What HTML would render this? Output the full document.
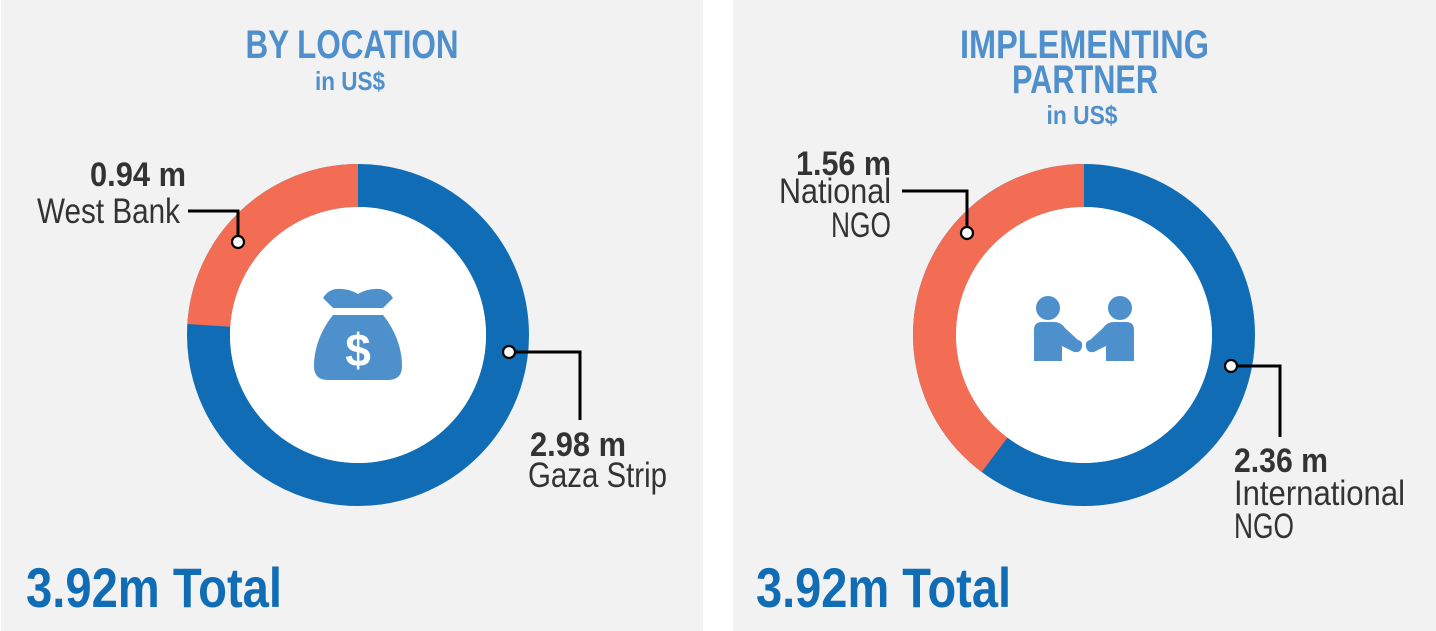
<!DOCTYPE html>
<html>
<head>
<meta charset="utf-8">
<style>
  html,body{margin:0;padding:0;background:#fff;}
  svg{display:block;}
  text{font-family:"Liberation Sans", Arial, sans-serif;}
</style>
</head>
<body>
<svg width="1436" height="631" viewBox="0 0 1436 631" xmlns="http://www.w3.org/2000/svg">
  <rect x="0" y="0" width="1436" height="631" fill="#ffffff"/>
  <rect x="1" y="0" width="702" height="631" fill="#f2f2f2"/>
  <rect x="733" y="0" width="703" height="631" fill="#f2f2f2"/>

  <!-- LEFT PANEL -->
  <text x="352" y="58" font-size="40" font-weight="bold" fill="#4e8fcc" text-anchor="middle" textLength="213" lengthAdjust="spacingAndGlyphs">BY LOCATION</text>
  <text x="350" y="90" font-size="26" font-weight="bold" fill="#4e8fcc" text-anchor="middle" textLength="70" lengthAdjust="spacingAndGlyphs">in US$</text>

  <!-- donut left -->
  <circle cx="358" cy="335" r="149.5" fill="none" stroke="#106cb5" stroke-width="43"/>
  <path d="M358,185.5 A149.5,149.5 0 0 0 208.8,325.4" fill="none" stroke="#f26d53" stroke-width="43"/>
  <circle cx="358" cy="335" r="128" fill="#ffffff"/>

  <!-- money bag -->
  <path d="M323,298 Q328,290 336,289 Q348,288 358,294 Q368,288 380,289 Q388,290 393,298 L383,308 L333,308 Z" fill="#4e90cb"/>
  <path d="M333,315 L383,315 C395,330 402,348 402,366 Q402,380 388,380 L328,380 Q314,380 314,366 C314,348 321,330 333,315 Z" fill="#4e90cb"/>
  <text x="358" y="366" font-size="46" font-weight="bold" fill="#ffffff" text-anchor="middle">$</text>

  <!-- labels left -->
  <text x="186" y="186" font-size="34" font-weight="bold" fill="#333333" text-anchor="end" textLength="96" lengthAdjust="spacingAndGlyphs">0.94 m</text>
  <text x="180" y="223" font-size="35" fill="#333333" text-anchor="end" textLength="143" lengthAdjust="spacingAndGlyphs">West Bank</text>
  <path d="M188,211 H238 V242" fill="none" stroke="#000" stroke-width="3"/>
  <circle cx="238" cy="242" r="6" fill="#fff" stroke="#000" stroke-width="2.2"/>

  <text x="530" y="456" font-size="34" font-weight="bold" fill="#333333" textLength="96" lengthAdjust="spacingAndGlyphs">2.98 m</text>
  <text x="528" y="487" font-size="35" fill="#333333" textLength="139" lengthAdjust="spacingAndGlyphs">Gaza Strip</text>
  <path d="M509,352 H580 V420" fill="none" stroke="#000" stroke-width="3"/>
  <circle cx="509" cy="352" r="6" fill="#fff" stroke="#000" stroke-width="2.2"/>

  <text x="26" y="607" font-size="56" font-weight="bold" fill="#106cb5" textLength="256" lengthAdjust="spacingAndGlyphs">3.92m Total</text>

  <!-- RIGHT PANEL -->
  <text x="1084.5" y="58" font-size="40" font-weight="bold" fill="#4e8fcc" text-anchor="middle" textLength="249" lengthAdjust="spacingAndGlyphs">IMPLEMENTING</text>
  <text x="1085" y="93" font-size="40" font-weight="bold" fill="#4e8fcc" text-anchor="middle" textLength="146" lengthAdjust="spacingAndGlyphs">PARTNER</text>
  <text x="1082" y="124" font-size="26" font-weight="bold" fill="#4e8fcc" text-anchor="middle" textLength="71" lengthAdjust="spacingAndGlyphs">in US$</text>

  <!-- donut right -->
  <circle cx="1084" cy="335" r="149.5" fill="none" stroke="#106cb5" stroke-width="43"/>
  <path d="M1084,185.5 A149.5,149.5 0 0 0 994.6,454.8" fill="none" stroke="#f26d53" stroke-width="43"/>
  <circle cx="1084" cy="335" r="128" fill="#ffffff"/>

  <!-- handshake icon -->
  <circle cx="1048" cy="308" r="12" fill="#4e90cb"/>
  <circle cx="1120" cy="308" r="12" fill="#4e90cb"/>
  <path d="M1034,361 L1034,330 Q1034,322 1042,322 L1054,322 Q1061,322 1065,328 L1078,340 Q1083,341 1082,347 Q1081,353 1074,352 L1062,346 L1062,361 Z" fill="#4e90cb"/>
  <path d="M1134,361 L1134,330 Q1134,322 1126,322 L1114,322 Q1107,322 1103,328 L1090,340 Q1085,341 1086,347 Q1087,353 1094,352 L1106,346 L1106,361 Z" fill="#4e90cb"/>

  <!-- labels right -->
  <text x="891" y="175" font-size="34" font-weight="bold" fill="#333333" text-anchor="end" textLength="95" lengthAdjust="spacingAndGlyphs">1.56 m</text>
  <text x="891" y="203" font-size="35" fill="#333333" text-anchor="end" textLength="112" lengthAdjust="spacingAndGlyphs">National</text>
  <text x="891" y="237" font-size="35" fill="#333333" text-anchor="end" textLength="60" lengthAdjust="spacingAndGlyphs">NGO</text>
  <path d="M902,191 H967 V233" fill="none" stroke="#000" stroke-width="3"/>
  <circle cx="967" cy="233" r="6" fill="#fff" stroke="#000" stroke-width="2.2"/>

  <text x="1234" y="472" font-size="34" font-weight="bold" fill="#333333" textLength="94" lengthAdjust="spacingAndGlyphs">2.36 m</text>
  <text x="1234" y="505" font-size="35" fill="#333333" textLength="171" lengthAdjust="spacingAndGlyphs">International</text>
  <text x="1234" y="538" font-size="35" fill="#333333" textLength="60" lengthAdjust="spacingAndGlyphs">NGO</text>
  <path d="M1231,366 H1280 V437" fill="none" stroke="#000" stroke-width="3"/>
  <circle cx="1231" cy="366" r="6" fill="#fff" stroke="#000" stroke-width="2.2"/>

  <text x="756" y="607" font-size="56" font-weight="bold" fill="#106cb5" textLength="255" lengthAdjust="spacingAndGlyphs">3.92m Total</text>
</svg>
</body>
</html>
